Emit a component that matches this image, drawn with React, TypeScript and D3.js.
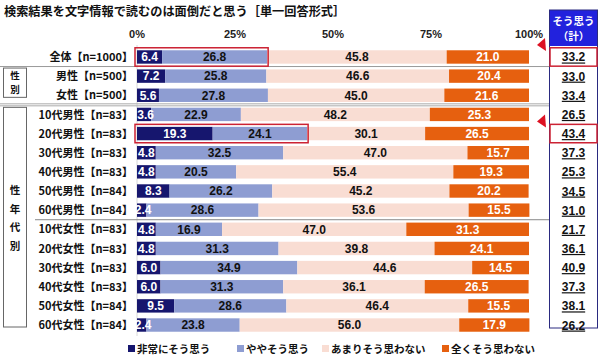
import React from "react";
import * as d3 from "d3";

const categories = [
  "全体【n=1000】",
  "男性【n=500】",
  "女性【n=500】",
  "10代男性【n=83】",
  "20代男性【n=83】",
  "30代男性【n=83】",
  "40代男性【n=83】",
  "50代男性【n=84】",
  "60代男性【n=84】",
  "10代女性【n=83】",
  "20代女性【n=83】",
  "30代女性【n=83】",
  "40代女性【n=83】",
  "50代女性【n=84】",
  "60代女性【n=84】",
];
const seriesNames = ["非常にそう思う", "ややそう思う", "あまりそう思わない", "全くそう思わない"];
const veryAgree = [6.4, 7.2, 5.6, 3.6, 19.3, 4.8, 4.8, 8.3, 2.4, 4.8, 4.8, 6.0, 6.0, 9.5, 2.4];
const somewhatAgree = [26.8, 25.8, 27.8, 22.9, 24.1, 32.5, 20.5, 26.2, 28.6, 16.9, 31.3, 34.9, 31.3, 28.6, 23.8];
const notMuch = [45.8, 46.6, 45.0, 48.2, 30.1, 47.0, 55.4, 45.2, 53.6, 47.0, 39.8, 44.6, 36.1, 46.4, 56.0];
const notAtAll = [21.0, 20.4, 21.6, 25.3, 26.5, 15.7, 19.3, 20.2, 15.5, 31.3, 24.1, 14.5, 26.5, 15.5, 17.9];
const agreeTotal = ["33.2", "33.0", "33.4", "26.5", "43.4", "37.3", "25.3", "34.5", "31.0", "21.7", "36.1", "40.9", "37.3", "38.1", "26.2"];
const highlighted = ["全体【n=1000】", "20代男性【n=83】"];
const xTicks = [0, 25, 50, 75, 100];
const title = "検索結果を文字情報で読むのは面倒だと思う［単一回答形式］";

const colors = ["#16166e", "#8e9dd2", "#f9ddd3", "#e6600f"];
const textColors = ["#ffffff", "#111111", "#111111", "#ffffff"];
const FONT = "'Noto Sans CJK JP', 'Noto Sans', sans-serif";
const NUMFONT = "'Liberation Sans', Arial, sans-serif";

export default function App() {
  const W = 600, H = 362;
  const x = d3.scaleLinear().domain([0, 100]).range([137, 529]);
  const y = d3.scaleBand<string>().domain(categories).range([47.4, 334.6]).paddingInner(0.3).paddingOuter(0.15);
  const step = y.step();
  const bh = y.bandwidth();
  const rows = categories.map((c, i) => ({
    cat: c,
    s0: veryAgree[i], s1: somewhatAgree[i], s2: notMuch[i], s3: notAtAll[i],
  }));
  const stack = d3.stack<any>().keys(["s0", "s1", "s2", "s3"]);
  const layers = stack(rows);
  const cy = (c: string) => (y(c) as number) + bh / 2;
  const sepY = (i: number) => (y(categories[i]) as number) - (step - bh) / 2;

  const boxX0 = 549, boxX1 = 598;
  const red = "#cc2233";
  const legendX = [127, 236, 321, 441];

  return (
    <svg width={W} height={H} style={{ display: "block", position: "absolute", left: 0, top: 0, background: "#fff" }}>
      <text x={4} y={16} fontFamily={FONT} fontWeight="bold" fontSize={12.2} fill="#111">{title}</text>

      {/* axis ticks */}
      {xTicks.map((t) => (
        <text key={t} x={x(t)} y={38} textAnchor="middle" fontFamily={NUMFONT} fontWeight="bold" fontSize={11} fill="#222">{t}%</text>
      ))}
      <line x1={x(0)} x2={x(0)} y1={45} y2={336} stroke="#d8d8d8" strokeWidth={1} />

      {/* separators */}
      <line x1={0} x2={boxX0} y1={sepY(1)} y2={sepY(1)} stroke="#999" strokeWidth={1} />
      <line x1={0} x2={boxX0} y1={sepY(3) - 1} y2={sepY(3) - 1} stroke="#aaa" strokeWidth={1} />
      <line x1={0} x2={boxX0} y1={sepY(3) + 1} y2={sepY(3) + 1} stroke="#aaa" strokeWidth={1} />
      <line x1={35} x2={boxX0} y1={sepY(9)} y2={sepY(9)} stroke="#888" strokeWidth={1} />

      {/* group boxes */}
      <rect x={3.5} y={sepY(1) + 1.5} width={23} height={sepY(3) - sepY(1) - 9} fill="none" stroke="#666" strokeWidth={1} />
      {["性", "別"].map((t, i) => (
        <text key={t} x={15} y={sepY(1) + 12.5 + i * 14} textAnchor="middle" fontFamily={FONT} fontWeight="bold" fontSize={9.5} fill="#111">{t}</text>
      ))}
      <rect x={3.5} y={sepY(3) + 2.5} width={23} height={327 - sepY(3) - 2.5} fill="none" stroke="#666" strokeWidth={1} />
      {["性", "年", "代", "別"].map((t, i) => (
        <text key={t + i} x={15} y={194 + i * 18.7} textAnchor="middle" fontFamily={FONT} fontWeight="bold" fontSize={10.5} fill="#111">{t}</text>
      ))}

      {/* category labels */}
      {categories.map((c) => (
        <text key={c} x={133} y={cy(c) + 4.2} textAnchor="end" fontFamily={FONT} fontWeight="bold" fontSize={11} fill="#111">{c}</text>
      ))}

      {/* bars */}
      {layers.map((layer, li) => (
        <g key={li}>
          {layer.map((d, i) => (
            <rect key={i} x={x(d[0])} y={y(categories[i])} width={Math.max(0, x(d[1]) - x(d[0]))} height={bh} fill={colors[li]} />
          ))}
        </g>
      ))}
      {layers.map((layer, li) => (
        <g key={"t" + li}>
          {layer.map((d, i) => (
            <text key={i} x={(x(d[0]) + x(d[1])) / 2 + (d[1] - d[0] < 4 ? 1.5 : 0)} y={cy(categories[i]) + 4.3} textAnchor="middle" fontFamily={NUMFONT} fontSize={12} fontWeight="bold" fill={textColors[li]}>
              {(d[1] - d[0]).toFixed(1)}
            </text>
          ))}
        </g>
      ))}

      {/* highlight boxes around agree portion */}
      {highlighted.map((c) => {
        const i = categories.indexOf(c);
        return (
          <rect key={c} x={x(0) - 2} y={(y(c) as number) - 2.5} width={x(veryAgree[i] + somewhatAgree[i]) - x(0) + 3} height={bh + 5} fill="none" stroke={red} strokeWidth={1.5} />
        );
      })}

      {/* right summary box */}
      <rect x={boxX0} y={10} width={boxX1 - boxX0} height={36} fill="#2222dd" />
      <text x={(boxX0 + boxX1) / 2} y={25} textAnchor="middle" fontFamily={FONT} fontWeight="bold" fontSize={10.5} fill="#fff">そう思う</text>
      <text x={(boxX0 + boxX1) / 2} y={40} textAnchor="middle" fontFamily={FONT} fontWeight="bold" fontSize={10.5} fill="#fff">（計）</text>
      <rect x={boxX0 + 0.5} y={10} width={boxX1 - boxX0 - 1} height={318} fill="none" stroke="#2a2a80" strokeWidth={1} />
      {categories.map((c, i) => {
        const xc = (boxX0 + boxX1) / 2;
        return (
          <g key={c}>
            <text x={xc} y={cy(c) + 4.5} textAnchor="middle" fontFamily={NUMFONT} fontWeight="bold" fontSize={12} fill="#111" textDecoration="underline">{agreeTotal[i]}</text>
          </g>
        );
      })}
      {highlighted.map((c) => (
        <g key={"h" + c}>
          <rect x={boxX0 + 1} y={(y(c) as number) - 2.5} width={boxX1 - boxX0 - 2} height={bh + 5} fill="none" stroke={red} strokeWidth={1.5} />
          <polygon points={`${537},${cy(c) - 12} ${545},${cy(c) - 19} ${546},${cy(c) - 6}`} fill="#dd1122" />
        </g>
      ))}

      {/* legend */}
      {seriesNames.map((s, i) => {
        const lx = legendX[i];
        return (
          <g key={s}>
            <rect x={lx + 1} y={345} width={7} height={7} fill={colors[i]} />
            <text x={lx + 10} y={353} fontFamily={FONT} fontWeight="bold" fontSize={10.5} fill="#111">{s}</text>
          </g>
        );
      })}
    </svg>
  );
}
